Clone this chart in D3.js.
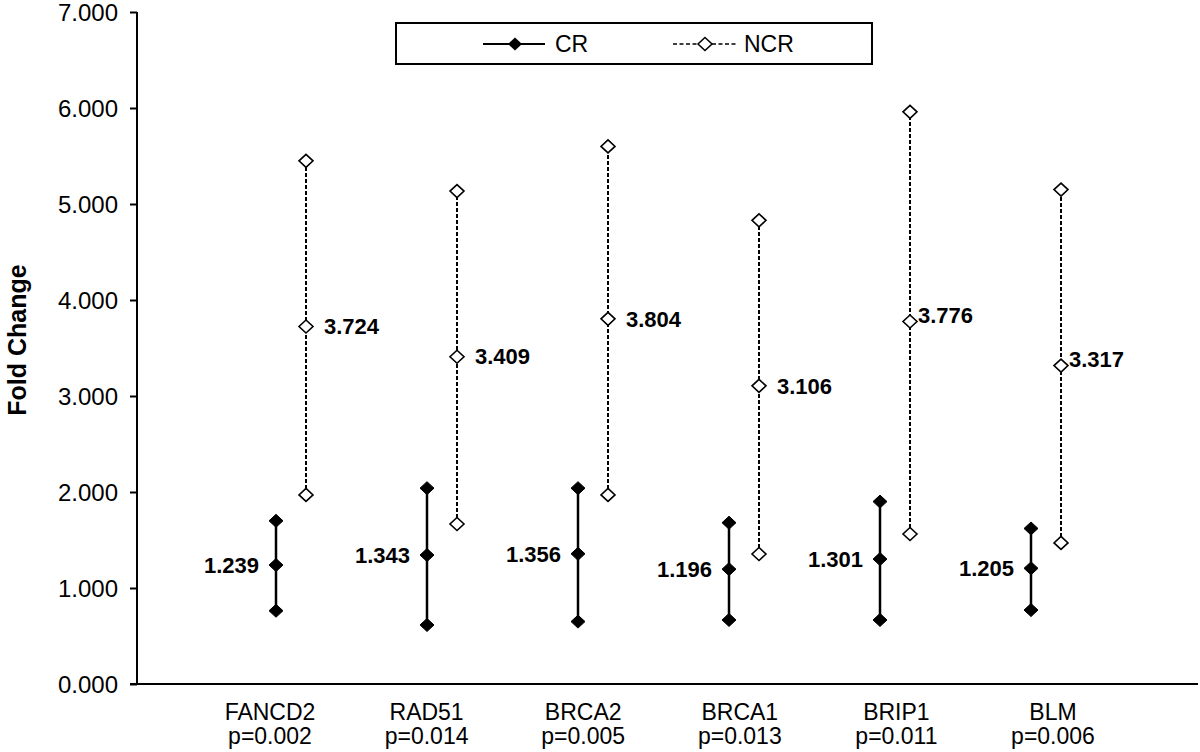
<!DOCTYPE html>
<html>
<head>
<meta charset="utf-8">
<script src="https://cdn.jsdelivr.net/npm/d3@7"></script>
<style>
  body { margin: 0; background: #fff; }
  text { font-family: "Liberation Sans", Arial, sans-serif; fill: #000; }
</style>
</head>
<body>
<div id="chart"></div>
<script>
// data
var genes   = ["FANCD2", "RAD51", "BRCA2", "BRCA1", "BRIP1", "BLM"];
var pValues = ["p=0.002", "p=0.014", "p=0.005", "p=0.013", "p=0.011", "p=0.006"];

// CR (solid, filled diamonds)
var crHigh = [1.70, 2.04, 2.04, 1.68, 1.90, 1.62];
var crMid  = [1.239, 1.343, 1.356, 1.196, 1.301, 1.205];
var crLow  = [0.763, 0.615, 0.650, 0.667, 0.667, 0.770];

// NCR (dashed, open diamonds)
var ncrHigh = [5.45, 5.135, 5.60, 4.83, 5.96, 5.15];
var ncrMid  = [3.724, 3.409, 3.804, 3.106, 3.776, 3.317];
var ncrLow  = [1.97, 1.667, 1.97, 1.354, 1.5625, 1.47];

var yTicks = [0, 1, 2, 3, 4, 5, 6, 7];

var width = 1200, height = 752;
var margin = {top: 12, right: 2, bottom: 68, left: 137};

var svg = d3.select("#chart")
  .append("svg")
    .attr("width", width)
    .attr("height", height);

// y scale
var y = d3.scaleLinear()
  .domain([0, 7])
  .range([height - margin.bottom, margin.top]);

// gene positions (CR line), NCR sits a bit to the right
var x = d3.scaleLinear()
  .domain([0, genes.length - 1])
  .range([276, 1031]);
var ncrShift = 30;

// category label positions
var xLab = d3.scaleLinear()
  .domain([0, genes.length - 1])
  .range([270, 1053]);

// Y axis
var yAxis = svg.append("g")
  .attr("transform", "translate(" + margin.left + ",0)")
  .call(d3.axisLeft(y).tickValues(yTicks).tickSize(7).tickPadding(12)
    .tickFormat(d3.format(".3f")));
yAxis.select(".domain").attr("stroke-width", 2).attr("d",
  "M0," + y(0) + "V" + y(7));
yAxis.selectAll(".tick line").attr("stroke-width", 2);
yAxis.selectAll(".tick text")
  .style("font-size", "24px")
  .attr("dy", "0.35em");

// X axis line
svg.append("line")
  .attr("x1", margin.left - 7)
  .attr("x2", width - margin.right)
  .attr("y1", y(0))
  .attr("y2", y(0))
  .attr("stroke", "#000")
  .attr("stroke-width", 2);

// y title
svg.append("text")
  .attr("transform", "translate(26," + 340 + ")rotate(-90)")
  .attr("text-anchor", "middle")
  .style("font-size", "25px")
  .style("font-weight", "bold")
  .text("Fold Change");

// category labels
var cat = svg.append("g").selectAll("text")
  .data(genes)
  .enter()
  .append("text")
    .attr("x", function(d, i) { return xLab(i); })
    .attr("y", 720)
    .attr("text-anchor", "middle")
    .style("font-size", "23px");
cat.append("tspan").text(function(d) { return d; });
cat.append("tspan")
  .attr("x", function(d, i) { return xLab(i); })
  .attr("dy", 24)
  .text(function(d, i) { return pValues[i]; });

var diamond = "M0,-6.5L7,0L0,6.5L-7,0Z";

// CR series
var cr = svg.append("g");
cr.selectAll("line")
  .data(genes)
  .enter()
  .append("line")
    .attr("x1", function(d, i) { return x(i); })
    .attr("x2", function(d, i) { return x(i); })
    .attr("y1", function(d, i) { return y(crLow[i]); })
    .attr("y2", function(d, i) { return y(crHigh[i]); })
    .attr("stroke", "#000")
    .attr("stroke-width", 2.5);

[crLow, crMid, crHigh].forEach(function(arr) {
  cr.append("g").selectAll("path")
    .data(arr)
    .enter()
    .append("path")
      .attr("d", diamond)
      .attr("transform", function(d, i) { return "translate(" + x(i) + "," + y(d) + ")"; })
      .attr("fill", "#000")
      .attr("stroke", "#000")
      .attr("stroke-width", 1);
});

cr.append("g").selectAll("text")
  .data(crMid)
  .enter()
  .append("text")
    .attr("x", function(d, i) { return x(i) - 17; })
    .attr("y", function(d) { return y(d); })
    .attr("dy", "0.35em")
    .attr("text-anchor", "end")
    .style("font-size", "22px")
    .style("font-weight", "bold")
    .text(function(d) { return d3.format(".3f")(d); });

// NCR series
var ncr = svg.append("g");
ncr.selectAll("line")
  .data(genes)
  .enter()
  .append("line")
    .attr("x1", function(d, i) { return x(i) + ncrShift; })
    .attr("x2", function(d, i) { return x(i) + ncrShift; })
    .attr("y1", function(d, i) { return y(ncrLow[i]); })
    .attr("y2", function(d, i) { return y(ncrHigh[i]); })
    .attr("stroke", "#000")
    .attr("stroke-width", 2)
    .attr("stroke-dasharray", "4,2");

[ncrLow, ncrMid, ncrHigh].forEach(function(arr) {
  ncr.append("g").selectAll("path")
    .data(arr)
    .enter()
    .append("path")
      .attr("d", diamond)
      .attr("transform", function(d, i) { return "translate(" + (x(i) + ncrShift) + "," + y(d) + ")"; })
      .attr("fill", "#fff")
      .attr("stroke", "#000")
      .attr("stroke-width", 1.6);
});

ncr.append("g").selectAll("text")
  .data(ncrMid)
  .enter()
  .append("text")
    .attr("x", function(d, i) { return x(i) + ncrShift + (i >= 4 ? 8 : 18); })
    .attr("y", function(d, i) { return y(d) - (i >= 4 ? 6 : 0); })
    .attr("dy", "0.35em")
    .style("font-size", "22px")
    .style("font-weight", "bold")
    .text(function(d) { return d3.format(".3f")(d); });

// legend
var lg = svg.append("g");
lg.append("rect")
  .attr("x", 396).attr("y", 23)
  .attr("width", 476).attr("height", 41)
  .attr("fill", "#fff")
  .attr("stroke", "#000")
  .attr("stroke-width", 2);
lg.append("line")
  .attr("x1", 483).attr("x2", 545).attr("y1", 44).attr("y2", 44)
  .attr("stroke", "#000").attr("stroke-width", 2);
lg.append("path")
  .attr("d", diamond)
  .attr("transform", "translate(515,44)")
  .attr("fill", "#000");
lg.append("text")
  .attr("x", 555).attr("y", 44).attr("dy", "0.35em")
  .style("font-size", "23px")
  .text("CR");
lg.append("line")
  .attr("x1", 673).attr("x2", 737).attr("y1", 44).attr("y2", 44)
  .attr("stroke", "#000").attr("stroke-width", 1.5)
  .attr("stroke-dasharray", "4,2.5");
lg.append("path")
  .attr("d", diamond)
  .attr("transform", "translate(705,44)")
  .attr("fill", "#fff")
  .attr("stroke", "#000")
  .attr("stroke-width", 1.5);
lg.append("text")
  .attr("x", 744).attr("y", 44).attr("dy", "0.35em")
  .style("font-size", "23px")
  .text("NCR");
</script>
</body>
</html>
